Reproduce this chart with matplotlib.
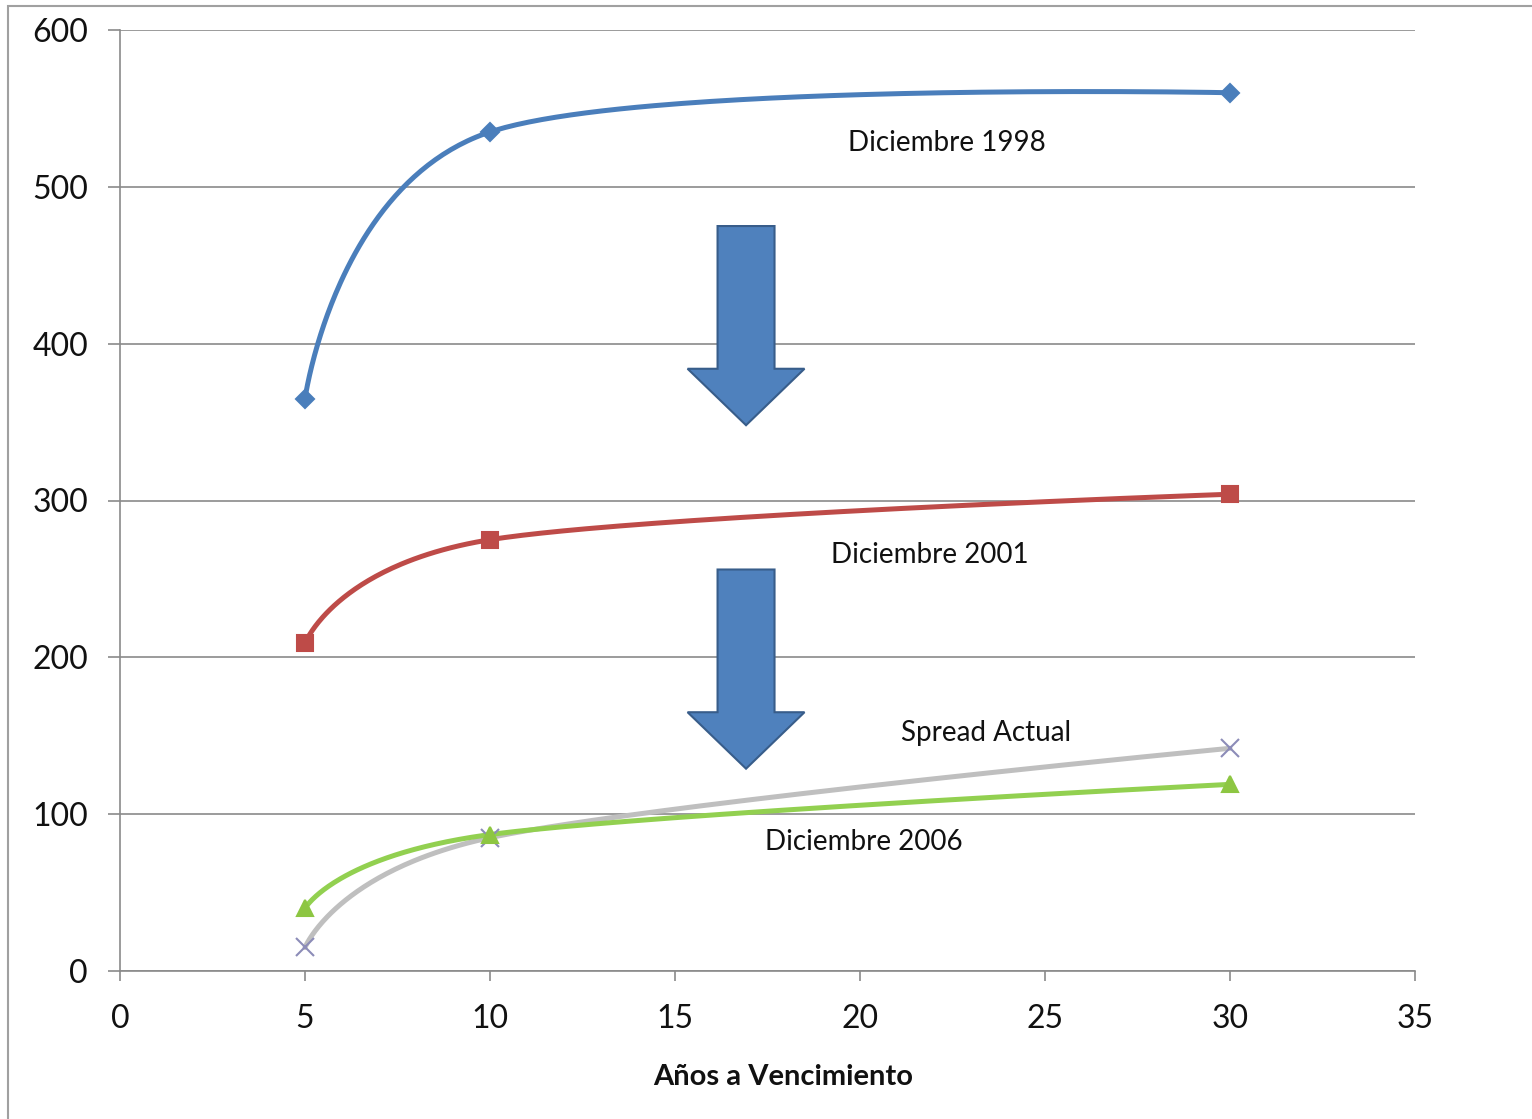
import numpy as np
import matplotlib
matplotlib.use("Agg")
import matplotlib.pyplot as plt
from matplotlib.patches import Polygon, Rectangle

plt.rcParams['font.family'] = ['Lato', 'DejaVu Sans']

# ---------------- data ----------------
years = [5, 10, 30]
dic_1998 = [365, 535, 560]
dic_2001 = [209, 275, 304]
spread_actual = [15, 85, 142]
dic_2006 = [40, 87, 119]

x_ticks = [0, 5, 10, 15, 20, 25, 30, 35]
y_ticks = [0, 100, 200, 300, 400, 500, 600]
x_label = "Años a Vencimiento"

labels = ["Diciembre 1998", "Diciembre 2001", "Spread Actual", "Diciembre 2006"]
label_x = [22.35, 21.9, 23.4, 20.1]
label_y = [528, 265, 152, 82]

# arrow annotations: (x centre, top of shaft, start of head, tip)
arrow_x = [16.92, 16.92]
arrow_top = [475, 256]
arrow_head = [384, 165]
arrow_tip = [348, 129]
shaft_half = 0.77
head_half = 1.58

W, H = 1532, 1119
fig = plt.figure(figsize=(W / 100, H / 100), dpi=100)
ax = fig.add_axes([120 / W, 1 - 971 / H, (1415 - 120) / W, (971 - 30) / H])
ax.set_xlim(0, 35)
ax.set_ylim(0, 600)

grid_c = '#8A8A8A'
ax.set_yticks(y_ticks)
ax.set_xticks(x_ticks)
ax.yaxis.grid(True, color=grid_c, lw=1.2)
ax.set_axisbelow(True)
for s in ['top', 'right']:
    ax.spines[s].set_visible(False)
for s in ['left', 'bottom']:
    ax.spines[s].set_color(grid_c)
    ax.spines[s].set_linewidth(1.2)
ax.tick_params(axis='y', length=9, width=1.2, color=grid_c, labelsize=23, pad=14, labelcolor='#111111')
ax.tick_params(axis='x', length=7, width=1.2, color=grid_c, labelsize=23, pad=17, labelcolor='#111111')


def excel_smooth(xs, ys, n=100):
    pts = ax.transData.transform(np.column_stack([xs, ys]))
    npt = len(pts)
    out = []
    for i in range(npt - 1):
        p1, p2 = pts[i], pts[i + 1]
        c1 = p1 if i == 0 else p1 + (p2 - pts[i - 1]) / 6
        c2 = p2 if i + 2 >= npt else p2 - (pts[i + 2] - p1) / 6
        t = np.linspace(0, 1, n)[:, None]
        seg = (1 - t) ** 3 * p1 + 3 * (1 - t) ** 2 * t * c1 + 3 * (1 - t) * t ** 2 * c2 + t ** 3 * p2
        out.append(seg)
    return ax.transData.inverted().transform(np.vstack(out))


series = [
    (dic_1998, '#4A7EBB', 'D', 9, '#4A7EBB'),
    (dic_2001, '#BE4B48', 's', 12, '#BE4B48'),
    (spread_actual, '#BFBFBF', 'x', 13, '#8C8CB8'),
    (dic_2006, '#92D050', '^', 12, '#8DC642'),
]
for ys, lc, mk, ms, mc in series:
    c = excel_smooth(years, ys)
    ax.plot(c[:, 0], c[:, 1], color=lc, lw=3.6, solid_capstyle='round', zorder=3)
    ax.plot(years, ys, ls='none', marker=mk, ms=ms, color=mc, mec=mc, mew=1.5, zorder=4)

for t, lx, ly in zip(labels, label_x, label_y):
    ax.text(lx, ly, t, ha='center', va='center', fontsize=20, color='#111111', zorder=5)

for xc, top, hd, tip in zip(arrow_x, arrow_top, arrow_head, arrow_tip):
    poly = [(xc - shaft_half, top), (xc + shaft_half, top), (xc + shaft_half, hd),
            (xc + head_half, hd), (xc, tip), (xc - head_half, hd), (xc - shaft_half, hd)]
    ax.add_patch(Polygon(poly, closed=True, facecolor='#4F81BD', edgecolor='#385D8A', lw=1.5, zorder=5))

fig.text(783 / W, 1 - 1077 / H, x_label, ha='center', va='center', fontsize=21, fontweight='bold', color='#111111')

fig.patches.append(Rectangle((8 / W, -0.05), 1.2, 1 - 6 / H + 0.05, transform=fig.transFigure,
                             fill=False, edgecolor='#A0A0A0', lw=1.5))

fig.savefig('out.png', dpi=100)
